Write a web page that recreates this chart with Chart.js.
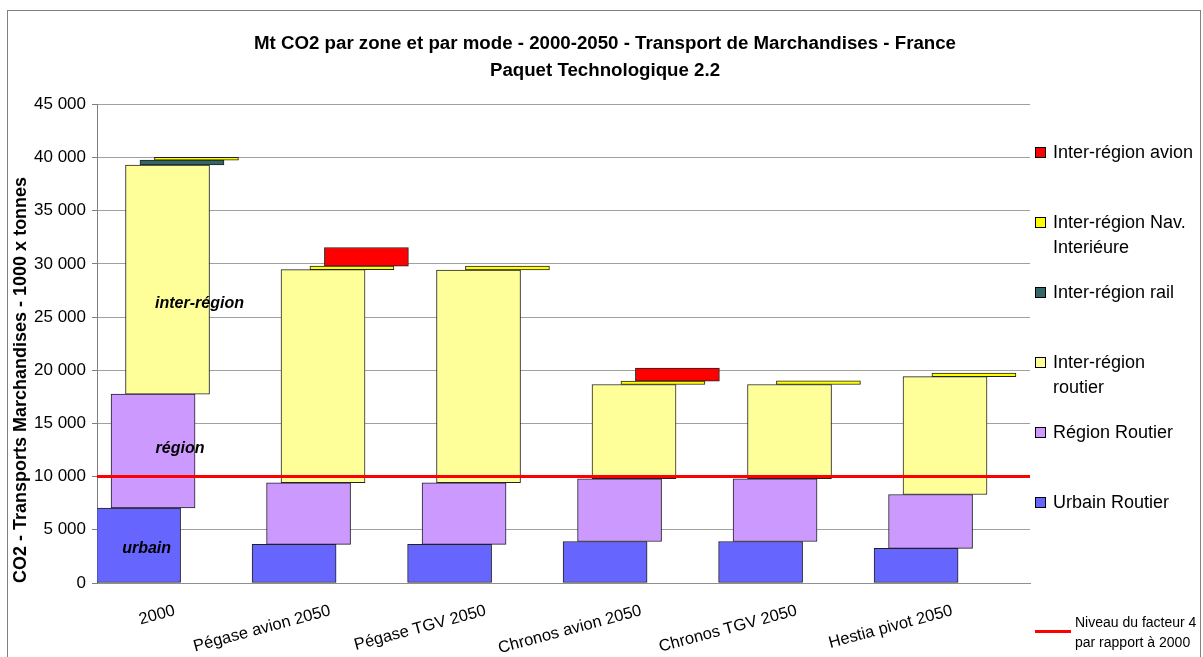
<!DOCTYPE html>
<html lang="fr">
<head>
<meta charset="utf-8">
<title>Mt CO2 par zone et par mode - Transport de Marchandises</title>
<script src="https://cdn.jsdelivr.net/npm/chart.js@4.4.1/dist/chart.umd.min.js"></script>
<style>
  body { margin: 0; background: #fff; font-family: "Liberation Sans", Arial, sans-serif; }
  #wrap { position: relative; width: 1203px; height: 657px; overflow: hidden; }
  #frame { position: absolute; left: 7px; top: 10px; width: 1192px; height: 700px; border: 1px solid #808080; }
  canvas { position: absolute; left: 0; top: 0; }
  #legend { position: absolute; left: 1035px; top: 140px; font-size: 18px; color: #000; }
  .item { display: flex; height: 70px; line-height: 25px; white-space: pre-line; }
  .box { width: 9px; height: 9px; border: 1px solid #000; margin: 7px 7px 0 0; flex: none; }
  #refLegend { position: absolute; left: 1035px; top: 612px; display: flex; font-size: 14px; line-height: 20px; color: #000; }
  #refLegend .line { width: 36px; height: 3px; background: #ff0000; margin: 18px 4px 0 0; flex: none; }
</style>
</head>
<body>
<div id="wrap">
  <div id="frame"></div>
  <canvas id="chart" width="1203" height="657"></canvas>
  <div id="legend"></div>
  <div id="refLegend"><div class="line"></div><div>Niveau du facteur 4<br>par rapport à 2000</div></div>
</div>
<script>
// scénarios (catégories) et émissions en milliers de tonnes de CO2
const categories = ['2000', 'Pégase avion 2050', 'Pégase TGV 2050', 'Chronos avion 2050', 'Chronos TGV 2050', 'Hestia pivot 2050'];
const urbainRoutier = [7050, 3630, 3630, 3900, 3900, 3250];
const regionRoutier = [10700, 5790, 5790, 5900, 5900, 5070];
const interRegionRoutier = [21540, 20030, 20000, 8860, 8860, 11070];
const interRegionRail = [450, 0, 0, 0, 0, 0];
const interRegionNav = [280, 340, 370, 320, 350, 345];
const interRegionAvion = [0, 1740, 0, 1230, 0, 0];
const niveauFacteur4 = 10000;
const yMax = 45000;
const yStep = 5000;

const series = [
  { label: 'Urbain Routier', values: urbainRoutier, color: '#6666ff' },
  { label: 'Région Routier', values: regionRoutier, color: '#cc99ff' },
  { label: 'Inter-région\nroutier', values: interRegionRoutier, color: '#ffff99' },
  { label: 'Inter-région rail', values: interRegionRail, color: '#336666' },
  { label: 'Inter-région Nav.\nInteriéure', values: interRegionNav, color: '#ffff00' },
  { label: 'Inter-région avion', values: interRegionAvion, color: '#ff0000' }
];

// étiquettes posées sur les barres de 2000
const zoneNotes = [
  { text: 'urbain', series: 0, dx: 8, dy: 3 },
  { text: 'région', series: 1, dx: 27, dy: -2 },
  { text: 'inter-région', series: 2, dx: 32, dy: 24 }
];

// chaque série est décalée vers la droite, comme dans Excel
const shiftStep = 0.093;

const totals = categories.map(() => 0);
const barSets = series.map((s, k) => {
  const shift = (k - (series.length - 1) / 2) * shiftStep;
  const data = categories.map((c, i) => {
    const lo = totals[i];
    totals[i] += s.values[i];
    return { x: i + shift, y: s.values[i] > 0 ? [lo, totals[i]] : null };
  });
  return {
    type: 'bar',
    label: s.label,
    data: data,
    backgroundColor: s.color,
    borderColor: '#222',
    borderWidth: 1,
    borderSkipped: false,
    barThickness: 84,
    grouped: false,
    order: 1
  };
});

const facteurLine = {
  type: 'line',
  label: 'Niveau du facteur 4 par rapport à 2000',
  data: [{ x: -0.5, y: niveauFacteur4 }, { x: categories.length - 0.5, y: niveauFacteur4 }],
  borderColor: '#ff0000',
  borderWidth: 3,
  pointRadius: 0,
  order: 0
};

const zoneLabels = {
  id: 'zoneLabels',
  afterDatasetsDraw(chart) {
    const ctx = chart.ctx;
    ctx.save();
    ctx.font = 'italic bold 16px "Liberation Sans", Arial, sans-serif';
    ctx.fillStyle = '#000';
    ctx.textAlign = 'center';
    ctx.textBaseline = 'middle';
    zoneNotes.forEach(n => {
      const bar = chart.getDatasetMeta(n.series).data[0];
      ctx.fillText(n.text, bar.x + n.dx, (bar.y + bar.base) / 2 + n.dy);
    });
    ctx.restore();
  }
};

Chart.defaults.font.family = '"Liberation Sans", Arial, sans-serif';
Chart.defaults.color = '#000';

const chart = new Chart(document.getElementById('chart').getContext('2d'), {
  type: 'bar',
  data: { datasets: [...barSets, facteurLine] },
  options: {
    responsive: false,
    animation: false,
    devicePixelRatio: 1,
    layout: { padding: { left: 7, top: 0, right: 0, bottom: 0 } },
    plugins: {
      legend: { display: false },
      tooltip: { enabled: false },
      title: {
        display: true,
        text: ['Mt CO2 par zone et par mode - 2000-2050 - Transport de Marchandises - France', 'Paquet Technologique 2.2'],
        font: { size: 18.7, weight: 'bold', lineHeight: 1.45 },
        color: '#000',
        padding: { top: 30, bottom: 20 }
      }
    },
    scales: {
      x: {
        type: 'linear',
        min: -0.5,
        max: categories.length - 0.5,
        offset: false,
        afterBuildTicks: s => { s.ticks = categories.map((c, i) => ({ value: i })); },
        afterFit: s => { s.height = 74; },
        grid: { display: false },
        border: { display: true, color: '#909090' },
        ticks: {
          autoSkip: false,
          minRotation: 15,
          maxRotation: 15,
          padding: 10,
          font: { size: 16.5 },
          callback: v => categories[v]
        }
      },
      y: {
        min: 0,
        max: yMax,
        afterFit: s => { s.width = 90; },
        grid: { color: '#a0a0a0', tickColor: '#808080', tickLength: 5 },
        border: { display: true, color: '#808080' },
        ticks: {
          stepSize: yStep,
          padding: 6,
          font: { size: 17 },
          callback: v => String(v).replace(/\B(?=(\d{3})+(?!\d))/g, ' ')
        },
        title: {
          display: true,
          text: 'CO2 - Transports Marchandises - 1000 x tonnes',
          align: 'start',
          font: { size: 18, weight: 'bold' },
          padding: { top: 3, bottom: 0 }
        }
      },
      yLegend: {
        type: 'linear',
        position: 'right',
        display: true,
        afterFit: s => { s.width = 173; },
        grid: { display: false },
        border: { display: false },
        ticks: { display: false }
      }
    }
  },
  plugins: [zoneLabels]
});

// légende à droite, dans l'ordre inverse des séries
const legend = document.getElementById('legend');
series.slice().reverse().forEach(s => {
  const item = document.createElement('div');
  item.className = 'item';
  const box = document.createElement('div');
  box.className = 'box';
  box.style.background = s.color;
  const txt = document.createElement('div');
  txt.textContent = s.label;
  item.appendChild(box);
  item.appendChild(txt);
  legend.appendChild(item);
});
</script>
</body>
</html>
